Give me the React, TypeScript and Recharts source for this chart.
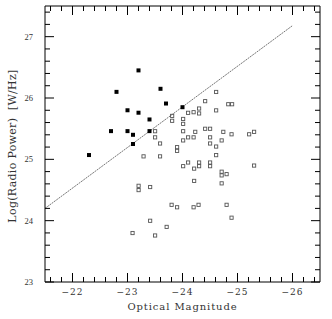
import React from 'react';
import { ScatterChart, Scatter, XAxis, YAxis, ReferenceLine } from 'recharts';

// Filled squares
const brightMag = [-22.3, -22.7, -22.8, -23.0, -23.0, -23.1, -23.1, -23.2, -23.2, -23.4, -23.4, -23.6, -23.7, -24.0];
const brightLogP = [25.07, 25.46, 26.1, 25.8, 25.46, 25.4, 25.25, 26.45, 25.76, 25.65, 25.46, 26.15, 25.91, 25.85];

// Open squares
const faintMag = [
  -23.81, -23.81, -24.01, -24.01, -23.5, -23.5, -23.59, -24.01, -23.9, -23.9,
  -23.29, -23.59, -24.61, -24.41, -24.83, -24.9, -24.1, -24.2, -24.3, -24.3,
  -24.61, -24.01, -24.23, -24.41, -24.5, -24.74, -24.89, -25.21, -25.3, -24.1,
  -24.2, -24.5, -24.5, -24.61, -24.71, -24.61, -24.01, -24.1, -24.21, -24.3,
  -24.3, -24.5, -24.5, -25.3, -24.71, -24.71, -24.8, -24.21, -24.71, -23.2,
  -23.2, -23.41, -23.8, -23.9, -24.2, -24.29, -24.8, -24.89, -23.41, -23.71,
  -23.09, -23.5,
];
const faintLogP = [
  25.71, 25.63, 25.66, 25.58, 25.46, 25.36, 25.26, 25.31, 25.2, 25.14,
  25.05, 25.05, 26.1, 25.95, 25.9, 25.9, 25.76, 25.77, 25.83, 25.75,
  25.8, 25.46, 25.45, 25.5, 25.5, 25.45, 25.41, 25.41, 25.45, 25.36,
  25.36, 25.36, 25.26, 25.21, 25.31, 25.07, 24.89, 24.95, 24.85, 24.95,
  24.89, 24.95, 24.89, 24.9, 24.8, 24.74, 24.76, 24.65, 24.61, 24.57,
  24.5, 24.55, 24.26, 24.22, 24.22, 24.26, 24.26, 24.05, 24.0, 23.9,
  23.8, 23.76,
];

// Dotted relation line endpoints
const lineMag = [-21.5, -26.0];
const lineLogP = [24.2, 27.18];

const magDomain = [-26.5, -21.5];
const logPDomain = [23, 27.5];

const magTicks = [
  -21.6, -21.8, -22, -22.2, -22.4, -22.6, -22.8, -23, -23.2, -23.4, -23.6, -23.8,
  -24, -24.2, -24.4, -24.6, -24.8, -25, -25.2, -25.4, -25.6, -25.8, -26, -26.2, -26.4,
];
const magLabels = [-22, -23, -24, -25, -26];
const logPTicks = [
  23, 23.2, 23.4, 23.6, 23.8, 24, 24.2, 24.4, 24.6, 24.8, 25, 25.2, 25.4, 25.6, 25.8,
  26, 26.2, 26.4, 26.6, 26.8, 27, 27.2, 27.4,
];
const logPLabels = [23, 24, 25, 26, 27];

const brightData = brightMag.map((m, i) => ({ mag: m, logP: brightLogP[i] }));
const faintData = faintMag.map((m, i) => ({ mag: m, logP: faintLogP[i] }));
const lineSegment = lineMag.map((m, i) => ({ x: m, y: lineLogP[i] }));

const MAJOR = 9;
const MINOR = 5;
const TEXT = '#333';

const isMajor = (v: number, list: number[]) => list.some((t) => Math.abs(t - v) < 1e-6);
const fmt = (v: number) => (v < 0 ? '\u2212' + Math.abs(v) : String(v));

const LeftTick = (p: any) => {
  const v = p.payload.value;
  const major = isMajor(v, logPLabels);
  return (
    <g>
      <line x1={p.x} x2={p.x + (major ? MAJOR : MINOR)} y1={p.y} y2={p.y} stroke="#000" strokeWidth={1} />
      {major && (
        <text x={p.x - 12} y={p.y + 3} textAnchor="end" fontFamily="Liberation Serif" fontSize={8.5} fill={TEXT}>
          {fmt(v)}
        </text>
      )}
    </g>
  );
};

const RightTick = (p: any) => {
  const v = p.payload.value;
  const major = isMajor(v, logPLabels);
  return <line x1={p.x} x2={p.x - (major ? MAJOR : MINOR)} y1={p.y} y2={p.y} stroke="#000" strokeWidth={1} />;
};

const BottomTick = (p: any) => {
  const v = p.payload.value;
  const major = isMajor(v, magLabels);
  return (
    <g>
      <line x1={p.x} x2={p.x} y1={p.y} y2={p.y - (major ? MAJOR : MINOR)} stroke="#000" strokeWidth={1} />
      {major && (
        <text x={p.x} y={p.y + 13} textAnchor="middle" fontFamily="DejaVu Serif" fontSize={9} letterSpacing={1} fill={TEXT}>
          {fmt(v)}
        </text>
      )}
    </g>
  );
};

const TopTick = (p: any) => {
  const v = p.payload.value;
  const major = isMajor(v, magLabels);
  return <line x1={p.x} x2={p.x} y1={p.y} y2={p.y + (major ? MAJOR : MINOR)} stroke="#000" strokeWidth={1} />;
};

const YTitle = (props: any) => {
  const vb = props.viewBox;
  const x = vb.x + 12;
  const y = vb.y + vb.height / 2 + 2;
  return (
    <text
      x={x}
      y={y}
      transform={`rotate(-90, ${x}, ${y})`}
      textAnchor="middle"
      dominantBaseline="central"
      fontFamily="DejaVu Serif"
      fontSize={11}
      letterSpacing={0.3}
      fill={TEXT}
      style={{ whiteSpace: 'pre' }}
    >
      {'Log(Radio Power)  [W/Hz]'}
    </text>
  );
};

const XTitle = (props: any) => {
  const vb = props.viewBox;
  return (
    <text
      x={vb.x + vb.width / 2}
      y={vb.y + 28}
      textAnchor="middle"
      fontFamily="DejaVu Serif"
      fontSize={10}
      letterSpacing={0.9}
      fill={TEXT}
    >
      Optical Magnitude
    </text>
  );
};

const FilledSquare = (p: any) => <rect x={p.cx - 2} y={p.cy - 2} width={4} height={4} fill="#000" />;
const OpenSquare = (p: any) => (
  <rect x={p.cx - 1.5} y={p.cy - 1.5} width={3.2} height={3.2} fill="none" stroke="#555" strokeWidth={0.9} />
);

export default function App() {
  return (
    <div style={{ position: 'absolute', left: 0, top: 0, width: 332, height: 319, background: '#fff' }}>
      <ScatterChart width={332} height={319} margin={{ top: 0, right: 0, bottom: 0, left: 0 }}>
        <XAxis
          xAxisId="bottom"
          dataKey="mag"
          type="number"
          domain={magDomain}
          reversed
          orientation="bottom"
          height={37}
          ticks={magTicks}
          interval={0}
          tickSize={0}
          tickMargin={0}
          tickLine={false}
          axisLine={{ stroke: '#000', strokeWidth: 1 }}
          tick={BottomTick}
          label={<XTitle />}
          allowDataOverflow
        />
        <XAxis
          xAxisId="top"
          dataKey="mag"
          type="number"
          domain={magDomain}
          reversed
          orientation="top"
          height={6}
          ticks={magTicks}
          interval={0}
          tickSize={0}
          tickMargin={0}
          tickLine={false}
          axisLine={{ stroke: '#000', strokeWidth: 1 }}
          tick={TopTick}
          allowDataOverflow
        />
        <YAxis
          yAxisId="left"
          dataKey="logP"
          type="number"
          domain={logPDomain}
          orientation="left"
          width={45}
          ticks={logPTicks}
          interval={0}
          tickSize={0}
          tickMargin={0}
          tickLine={false}
          axisLine={{ stroke: '#000', strokeWidth: 1 }}
          tick={LeftTick}
          label={<YTitle />}
          allowDataOverflow
        />
        <YAxis
          yAxisId="right"
          dataKey="logP"
          type="number"
          domain={logPDomain}
          orientation="right"
          width={12}
          ticks={logPTicks}
          interval={0}
          tickSize={0}
          tickMargin={0}
          tickLine={false}
          axisLine={{ stroke: '#000', strokeWidth: 1 }}
          tick={RightTick}
          allowDataOverflow
        />
        <ReferenceLine
          xAxisId="bottom"
          yAxisId="left"
          segment={lineSegment}
          stroke="#666"
          strokeWidth={0.9}
          strokeDasharray="2 0.8"
          ifOverflow="visible"
        />
        <Scatter
          xAxisId="bottom"
          yAxisId="left"
          data={faintData}
          shape={OpenSquare}
          isAnimationActive={false}
        />
        <Scatter
          xAxisId="bottom"
          yAxisId="left"
          data={brightData}
          shape={FilledSquare}
          isAnimationActive={false}
        />
      </ScatterChart>
    </div>
  );
}
